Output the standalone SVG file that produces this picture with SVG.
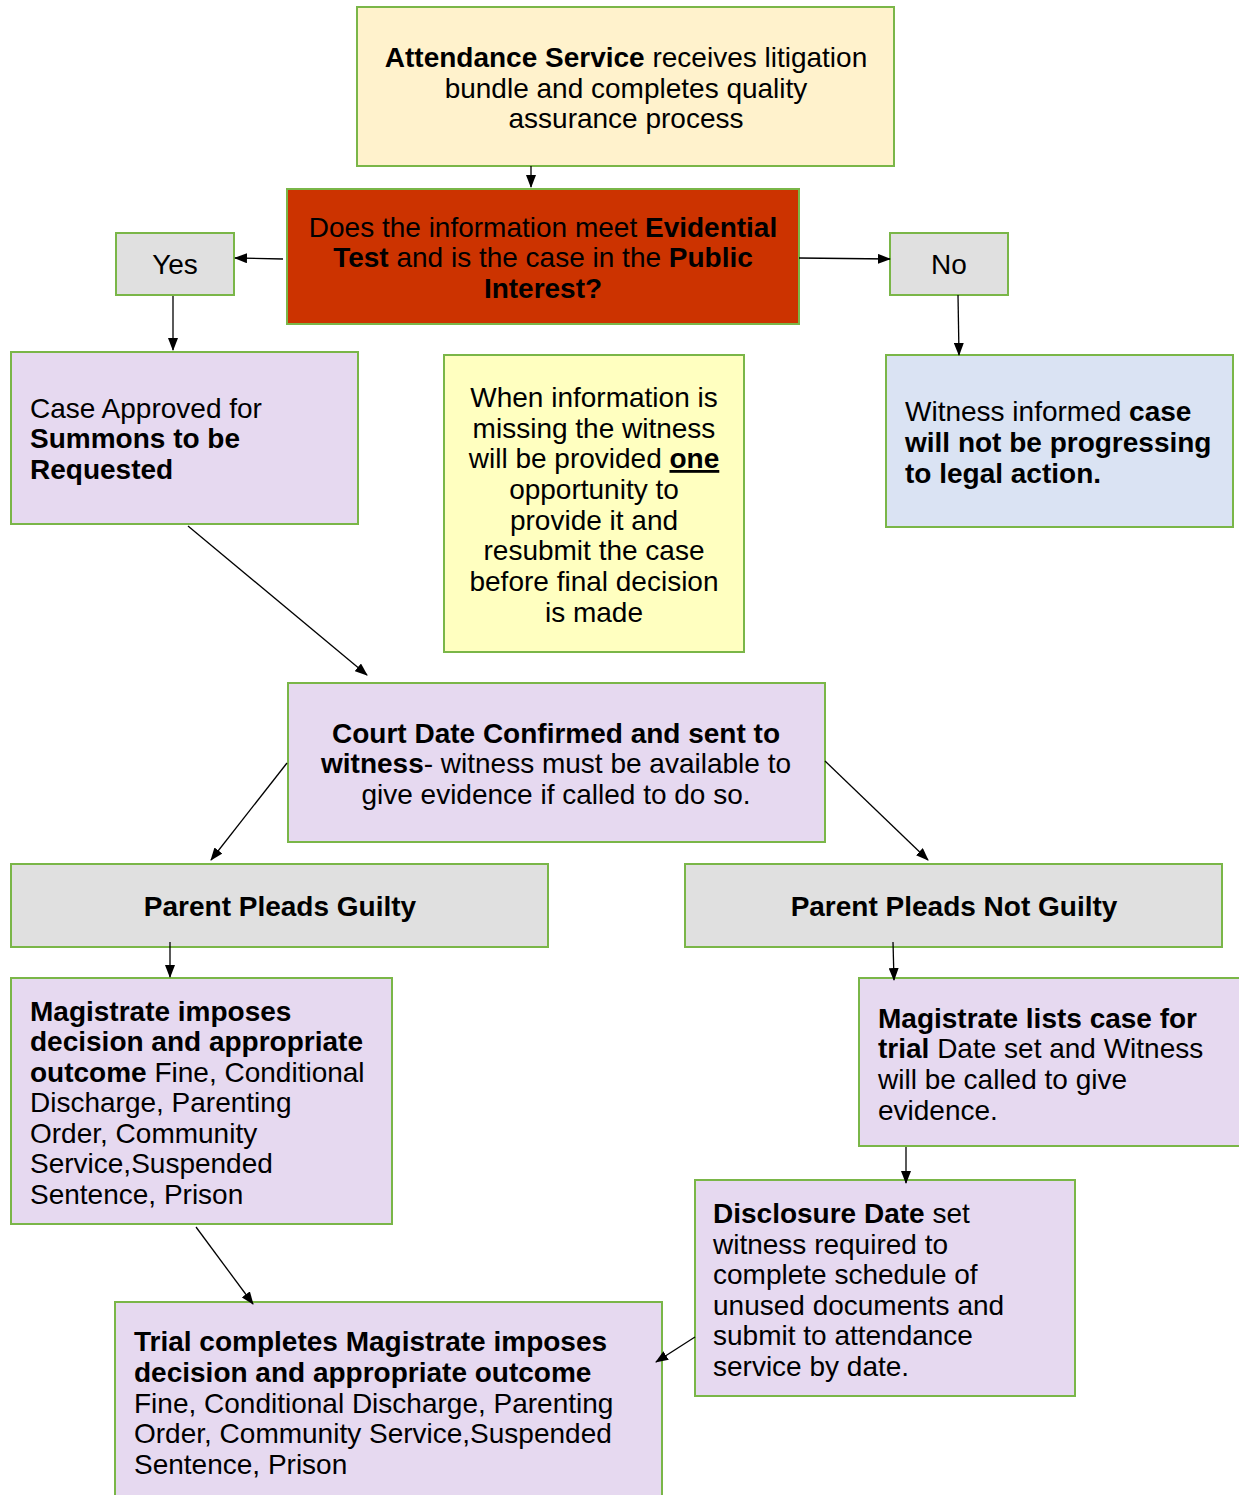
<svg xmlns="http://www.w3.org/2000/svg" width="1239" height="1495" viewBox="0 0 1239 1495">
<defs>
<style>
.box{stroke:#7ab648;stroke-width:2}
.t{font-family:"Liberation Sans",Arial,sans-serif;font-size:28px;fill:#000}
.c{text-anchor:middle}
.b{font-weight:bold}
.cn{stroke:#000;stroke-width:1.3;fill:none;marker-end:url(#ah)}
</style>
<marker id="ah" viewBox="0 0 13 10" refX="12" refY="5" markerWidth="13" markerHeight="10" markerUnits="userSpaceOnUse" orient="auto">
<path d="M0,0 L13,5 L0,10 z" fill="#000"/>
</marker>
</defs>
<rect width="1239" height="1495" fill="#fff"/>
<g id="n-attendance">
<rect class="box" x="357" y="7" width="537" height="159" fill="#fff2cc"/>
<text class="t c" x="626" y="67"><tspan class="b">Attendance Service</tspan> receives litigation</text>
<text class="t c" x="626" y="98">bundle and completes quality</text>
<text class="t c" x="626" y="128">assurance process</text>
</g>
<g id="n-decision">
<rect class="box" x="287" y="189" width="512" height="135" fill="#cc3300"/>
<text class="t c" x="543" y="237">Does the information meet <tspan class="b">Evidential</tspan></text>
<text class="t c" x="543" y="267"><tspan class="b">Test</tspan> and is the case in the <tspan class="b">Public</tspan></text>
<text class="t c b" x="543" y="298">Interest?</text>
</g>
<g id="n-yes">
<rect class="box" x="116" y="233" width="118" height="62" fill="#e0e0e0"/>
<text class="t c" x="175" y="274">Yes</text>
</g>
<g id="n-no">
<rect class="box" x="890" y="233" width="118" height="62" fill="#e0e0e0"/>
<text class="t c" x="949" y="274">No</text>
</g>
<g id="n-approved">
<rect class="box" x="11" y="352" width="347" height="172" fill="#e6d9f0"/>
<text class="t" x="30" y="418">Case Approved for</text>
<text class="t b" x="30" y="448">Summons to be</text>
<text class="t b" x="30" y="479">Requested</text>
</g>
<g id="n-note">
<rect class="box" x="444" y="355" width="300" height="297" fill="#ffffc0"/>
<text class="t c" x="594" y="407">When information is</text>
<text class="t c" x="594" y="438">missing the witness</text>
<text class="t c" x="594" y="468">will be provided <tspan class="b" text-decoration="underline">one</tspan></text>
<text class="t c" x="594" y="499">opportunity to</text>
<text class="t c" x="594" y="530">provide it and</text>
<text class="t c" x="594" y="560">resubmit the case</text>
<text class="t c" x="594" y="591">before final decision</text>
<text class="t c" x="594" y="622">is made</text>
</g>
<g id="n-witness">
<rect class="box" x="886" y="355" width="347" height="172" fill="#dae3f3"/>
<text class="t" x="905" y="421">Witness informed <tspan class="b">case</tspan></text>
<text class="t b" x="905" y="452">will not be progressing</text>
<text class="t b" x="905" y="483">to legal action.</text>
</g>
<g id="n-court">
<rect class="box" x="288" y="683" width="537" height="159" fill="#e6d9f0"/>
<text class="t c" x="556" y="743"><tspan class="b">Court Date Confirmed and sent to</tspan></text>
<text class="t c" x="556" y="773"><tspan class="b">witness</tspan>- witness must be available to</text>
<text class="t c" x="556" y="804">give evidence if called to do so.</text>
</g>
<g id="n-guilty">
<rect class="box" x="11" y="864" width="537" height="83" fill="#e0e0e0"/>
<text class="t c b" x="280" y="916">Parent Pleads Guilty</text>
</g>
<g id="n-notguilty">
<rect class="box" x="685" y="864" width="537" height="83" fill="#e0e0e0"/>
<text class="t c b" x="954" y="916">Parent Pleads Not Guilty</text>
</g>
<g id="n-imposes">
<rect class="box" x="11" y="978" width="381" height="246" fill="#e6d9f0"/>
<text class="t b" x="30" y="1021">Magistrate imposes</text>
<text class="t b" x="30" y="1051">decision and appropriate</text>
<text class="t" x="30" y="1082"><tspan class="b">outcome</tspan> Fine, Conditional</text>
<text class="t" x="30" y="1112">Discharge, Parenting</text>
<text class="t" x="30" y="1143">Order, Community</text>
<text class="t" x="30" y="1173">Service,Suspended</text>
<text class="t" x="30" y="1204">Sentence, Prison</text>
</g>
<g id="n-lists">
<rect class="box" x="859" y="978" width="390" height="168" fill="#e6d9f0"/>
<text class="t b" x="878" y="1028">Magistrate lists case for</text>
<text class="t" x="878" y="1058"><tspan class="b">trial</tspan> Date set and Witness</text>
<text class="t" x="878" y="1089">will be called to give</text>
<text class="t" x="878" y="1120">evidence.</text>
</g>
<g id="n-disclosure">
<rect class="box" x="695" y="1180" width="380" height="216" fill="#e6d9f0"/>
<text class="t" x="713" y="1223"><tspan class="b">Disclosure Date</tspan> set</text>
<text class="t" x="713" y="1254">witness required to</text>
<text class="t" x="713" y="1284">complete schedule of</text>
<text class="t" x="713" y="1315">unused documents and</text>
<text class="t" x="713" y="1345">submit to attendance</text>
<text class="t" x="713" y="1376">service by date.</text>
</g>
<g id="n-trial">
<rect class="box" x="115" y="1302" width="547" height="210" fill="#e6d9f0"/>
<text class="t b" x="134" y="1351">Trial completes Magistrate imposes</text>
<text class="t b" x="134" y="1382">decision and appropriate outcome</text>
<text class="t" x="134" y="1413">Fine, Conditional Discharge, Parenting</text>
<text class="t" x="134" y="1443">Order, Community Service,Suspended</text>
<text class="t" x="134" y="1474">Sentence, Prison</text>
</g>
<g id="connectors">
<line class="cn" x1="531" y1="166" x2="531" y2="187"/>
<line class="cn" x1="283" y1="259" x2="235" y2="258"/>
<line class="cn" x1="799" y1="258" x2="890" y2="259"/>
<line class="cn" x1="173" y1="296" x2="173" y2="350"/>
<line class="cn" x1="958" y1="295" x2="959" y2="355"/>
<line class="cn" x1="188" y1="526" x2="367" y2="675"/>
<line class="cn" x1="287" y1="763" x2="211" y2="860"/>
<line class="cn" x1="825" y1="761" x2="928" y2="860"/>
<line class="cn" x1="170" y1="942" x2="170" y2="977"/>
<line class="cn" x1="893" y1="942" x2="894" y2="980"/>
<line class="cn" x1="196" y1="1227" x2="253" y2="1304"/>
<line class="cn" x1="906" y1="1147" x2="906" y2="1183"/>
<line class="cn" x1="695" y1="1337" x2="656" y2="1362"/>
</g>
</svg>
